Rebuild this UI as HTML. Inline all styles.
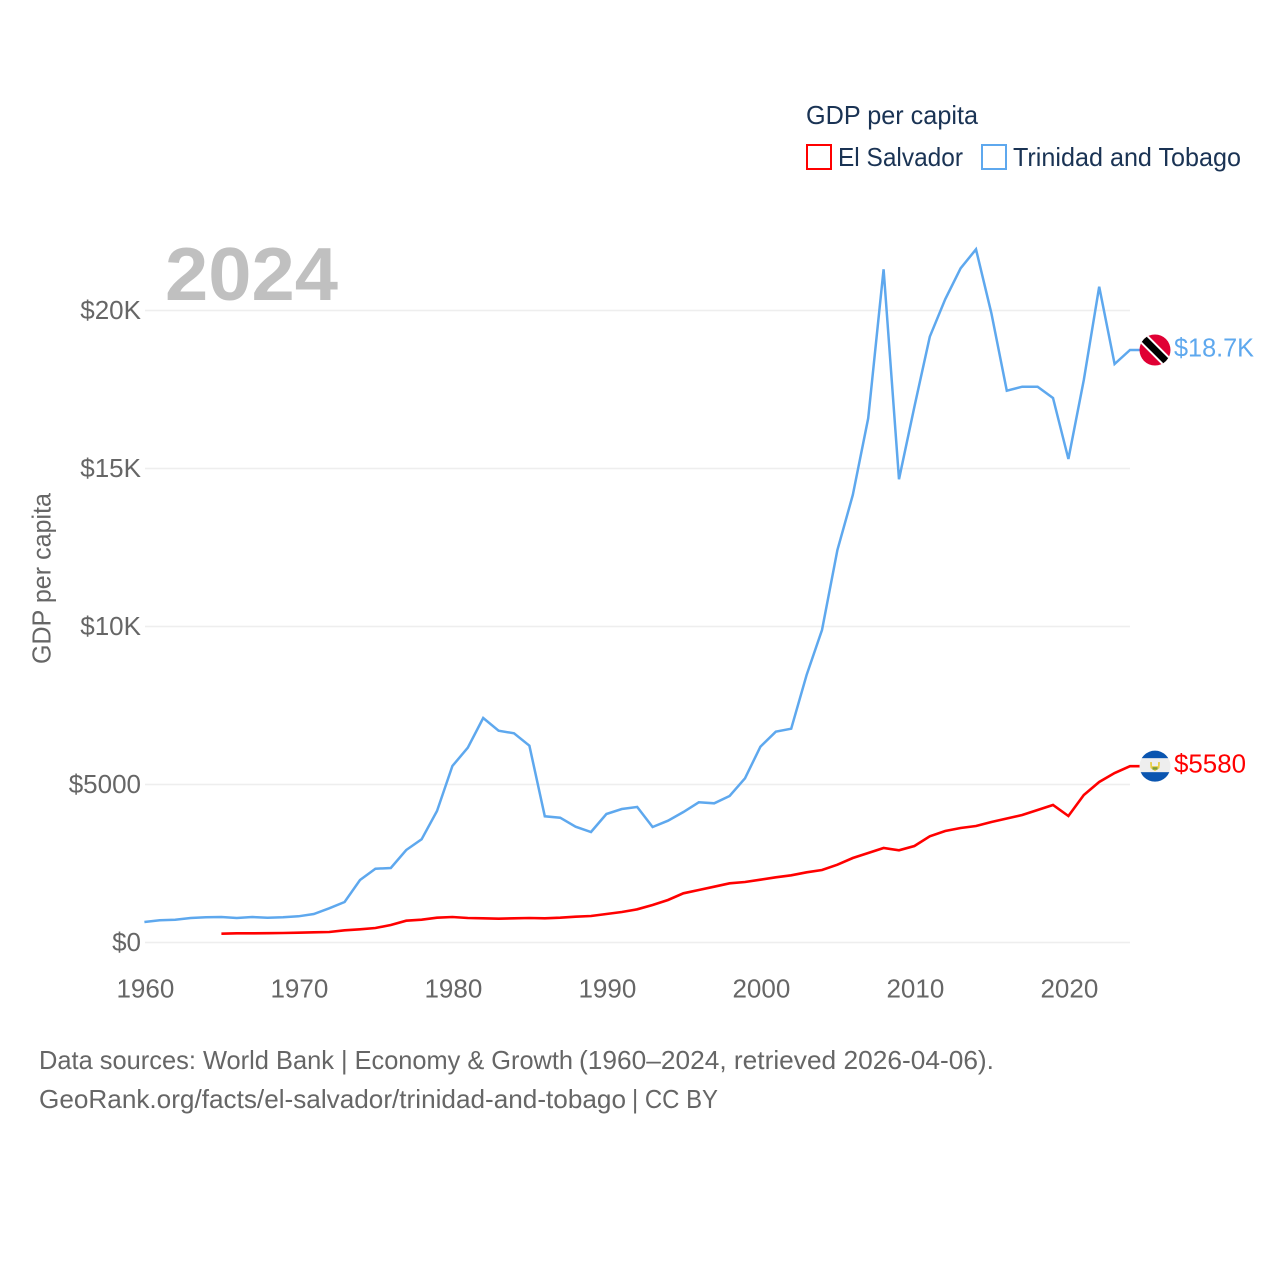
<!DOCTYPE html>
<html lang="en">
<head>
<meta charset="utf-8">
<title>GDP per capita: El Salvador and Trinidad and Tobago</title>
<style>
html,body{margin:0;padding:0;background:#fff;}
svg{display:block;font-family:"Liberation Sans",sans-serif;}
</style>
</head>
<body>
<svg id="chart" xmlns="http://www.w3.org/2000/svg" width="1280" height="1280" viewBox="0 0 1280 1280">
  <rect width="1280" height="1280" fill="#fff"/>
  <g id="grid"></g>
  <g id="yticks"></g>
  <g id="xticks"></g>
  <text x="165" y="300" font-size="75" font-weight="bold" fill="#c0c0c0" textLength="173" lengthAdjust="spacingAndGlyphs">2024</text>
  <text transform="translate(50.5,664) rotate(-90)" font-size="26" fill="#666666" textLength="171" lengthAdjust="spacingAndGlyphs">GDP per capita</text>
  <g id="series"></g>

  <g id="flag-tt">
    <clipPath id="clip-tt"><circle cx="0" cy="0" r="15.5"/></clipPath>
    <g clip-path="url(#clip-tt)">
      <rect x="-16" y="-16" width="32" height="32" fill="#e00034"/>
      <line x1="-20" y1="-20" x2="20" y2="20" stroke="#fff" stroke-width="11"/>
      <line x1="-20" y1="-20" x2="20" y2="20" stroke="#000" stroke-width="7"/>
    </g>
  </g>
  <g id="flag-sv">
    <clipPath id="clip-sv"><circle cx="0" cy="0" r="15.5"/></clipPath>
    <g clip-path="url(#clip-sv)">
      <rect x="-16" y="-16" width="32" height="32" fill="#eeeeee"/>
      <rect x="-16" y="-16" width="32" height="8" fill="#0a55b0"/>
      <rect x="-16" y="6" width="32" height="10" fill="#0a55b0"/>
      <path d="M-5 -4 L-3 -4 L-3 0 L3 0 L3 -4 L5 -4 L4.5 2 L0 5 L-4.5 2 Z" fill="#e8cf4a"/>
      <rect x="-2.5" y="1" width="5" height="2.5" fill="#7a9c3a"/>
    </g>
  </g>
  <text id="label-tt" x="1174" font-size="26" fill="#5ea8ee" textLength="80" lengthAdjust="spacingAndGlyphs"></text>
  <text id="label-sv" x="1174" font-size="26" fill="#ff0000" textLength="72" lengthAdjust="spacingAndGlyphs"></text>

  <g>
    <text x="806" y="124" font-size="26" fill="#1a3354" textLength="172" lengthAdjust="spacingAndGlyphs">GDP per capita</text>
    <g>
      <rect x="807" y="145" width="24" height="24" fill="#fff" stroke="#ff0000" stroke-width="2"/>
      <text x="838" y="166" font-size="26" fill="#1a3354" textLength="125" lengthAdjust="spacingAndGlyphs">El Salvador</text>
    </g>
    <g>
      <rect x="982" y="145" width="24" height="24" fill="#fff" stroke="#5ea8ee" stroke-width="2"/>
      <text x="1013" y="166" font-size="26" fill="#1a3354" textLength="228" lengthAdjust="spacingAndGlyphs">Trinidad and Tobago</text>
    </g>
  </g>

  <text y="1069" font-size="26" fill="#666666"><tspan x="39" textLength="295" lengthAdjust="spacingAndGlyphs">Data sources: World Bank</tspan> <tspan x="341" textLength="232" lengthAdjust="spacingAndGlyphs">| Economy &amp; Growth</tspan> <tspan x="579" textLength="415" lengthAdjust="spacingAndGlyphs">(1960–2024, retrieved 2026-04-06).</tspan></text>
  <text y="1108" font-size="26" fill="#666666"><tspan x="39" textLength="587" lengthAdjust="spacingAndGlyphs">GeoRank.org/facts/el-salvador/trinidad-and-tobago</tspan> <tspan x="632" textLength="86" lengthAdjust="spacingAndGlyphs">| CC BY</tspan></text>
</svg>
<script>
const years = [1960,1961,1962,1963,1964,1965,1966,1967,1968,1969,1970,1971,1972,1973,1974,1975,1976,1977,1978,1979,1980,1981,1982,1983,1984,1985,1986,1987,1988,1989,1990,1991,1992,1993,1994,1995,1996,1997,1998,1999,2000,2001,2002,2003,2004,2005,2006,2007,2008,2009,2010,2011,2012,2013,2014,2015,2016,2017,2018,2019,2020,2021,2022,2023,2024];
const trinidadValues = [649,702,722,775,797,807,775,807,785,797,829,902,1082,1282,1978,2335,2358,2927,3266,4161,5585,6165,7104,6703,6620,6228,3993,3950,3665,3497,4066,4225,4288,3655,3854,4130,4437,4405,4636,5196,6196,6671,6766,8465,9889,12421,14161,16588,21304,14658,16956,19171,20353,21335,21937,19911,17462,17589,17589,17231,15300,17800,20753,18307,18750];
const elSalvadorValues = [null,null,null,null,null,279,290,290,295,300,310,322,333,385,417,459,554,690,722,785,807,775,765,753,765,775,765,785,816,838,902,965,1050,1187,1345,1557,1661,1766,1873,1915,1987,2063,2126,2221,2294,2462,2674,2832,2990,2917,3054,3361,3528,3623,3687,3813,3924,4035,4193,4351,4003,4668,5079,5364,5580];
const yTickValues = [0,5000,10000,15000,20000];
const yTickLabels = ["$0","$5000","$10K","$15K","$20K"];
const xTickValues = [1960,1970,1980,1990,2000,2010,2020];
const xTickLabels = ["1960","1970","1980","1990","2000","2010","2020"];
const endLabels = ["$5580","$18.7K"];

const NS = "http://www.w3.org/2000/svg";
const xScale = function (year) { return 144.4 + (year - 1960) * 15.4; };
const yScale = function (value) { return 942.5 - value * 0.0316; };

const gridGroup = document.getElementById("grid");
const yTickGroup = document.getElementById("yticks");
const xTickGroup = document.getElementById("xticks");
const seriesGroup = document.getElementById("series");

yTickValues.forEach(function (value, i) {
  const gridLine = document.createElementNS(NS, "line");
  
  
  gridLine.setAttribute("x1", 145);
  gridLine.setAttribute("x2", 1130);
  gridLine.setAttribute("y1", yScale(value));
  gridLine.setAttribute("y2", yScale(value));
  gridLine.setAttribute("stroke", "#eeeeee");
  gridLine.setAttribute("stroke-width", 1.6);
  gridGroup.appendChild(gridLine);

  const tick = document.createElementNS(NS, "text");
  
  
  tick.setAttribute("x", 141);
  tick.setAttribute("y", yScale(value) + 8.5);
  tick.setAttribute("text-anchor", "end");
  tick.setAttribute("font-size", 26);
  tick.setAttribute("fill", "#666666");
  tick.textContent = yTickLabels[i];
  yTickGroup.appendChild(tick);
});

xTickValues.forEach(function (year, i) {
  const tick = document.createElementNS(NS, "text");
  
  
  tick.setAttribute("x", xScale(year) + 1);
  tick.setAttribute("y", 997.5);
  tick.setAttribute("text-anchor", "middle");
  tick.setAttribute("font-size", 26);
  tick.setAttribute("fill", "#666666");
  tick.textContent = xTickLabels[i];
  xTickGroup.appendChild(tick);
});

function linePoints(values) {
  const points = [];
  values.forEach(function (value, i) {
    if (value !== null) {
      points.push(xScale(years[i]).toFixed(1) + "," + yScale(value).toFixed(1));
    }
  });
  return points;
}

const trinidadPoints = linePoints(trinidadValues);
const trinidadLast = trinidadValues[trinidadValues.length - 1];
trinidadPoints.push("1140," + yScale(trinidadLast).toFixed(1));
const trinidadLine = document.createElementNS(NS, "polyline");


trinidadLine.setAttribute("points", trinidadPoints.join(" "));
trinidadLine.setAttribute("fill", "none");
trinidadLine.setAttribute("stroke", "#5ea8ee");
trinidadLine.setAttribute("stroke-width", 2.5);
trinidadLine.setAttribute("stroke-linejoin", "miter");
seriesGroup.appendChild(trinidadLine);

const elSalvadorPoints = linePoints(elSalvadorValues);
const elSalvadorLast = elSalvadorValues[elSalvadorValues.length - 1];
elSalvadorPoints.push("1140," + yScale(elSalvadorLast).toFixed(1));
const elSalvadorLine = document.createElementNS(NS, "polyline");


elSalvadorLine.setAttribute("points", elSalvadorPoints.join(" "));
elSalvadorLine.setAttribute("fill", "none");
elSalvadorLine.setAttribute("stroke", "#ff0000");
elSalvadorLine.setAttribute("stroke-width", 2.6);
seriesGroup.appendChild(elSalvadorLine);

document.getElementById("flag-tt").setAttribute("transform", "translate(1155," + yScale(trinidadLast) + ")");
document.getElementById("flag-sv").setAttribute("transform", "translate(1155," + yScale(elSalvadorLast) + ")");

const labelTT = document.getElementById("label-tt");
labelTT.setAttribute("y", yScale(trinidadLast) + 6.5);
labelTT.textContent = endLabels[1];
const labelSV = document.getElementById("label-sv");
labelSV.setAttribute("y", yScale(elSalvadorLast) + 6.5);
labelSV.textContent = endLabels[0];
</script>
</body>
</html>
